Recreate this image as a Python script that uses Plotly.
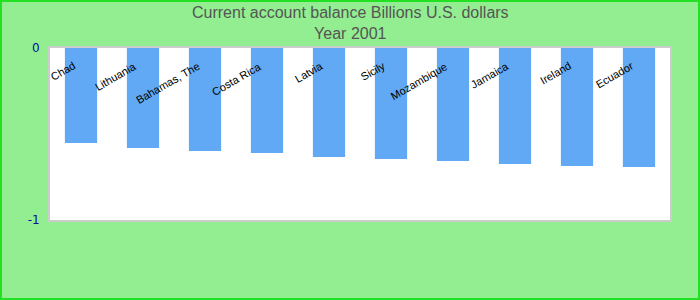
import plotly.graph_objects as go

countries = ["Chad", "Lithuania", "Bahamas, The", "Costa Rica", "Latvia",
             "Sicily", "Mozambique", "Jamaica", "Ireland", "Ecuador"]
balance = [-0.552, -0.581, -0.599, -0.610, -0.634,
           -0.645, -0.657, -0.674, -0.686, -0.692]
y_ticks = [0, -1]

W, H = 700, 300
ML, MR, MT, MB = 50, 30, 48, 80
PW, PH = W - ML - MR, H - MT - MB

fig = go.Figure()
fig.add_trace(go.Bar(x=countries, y=balance, marker_color="#61a9f4",
                     marker_line_width=0, width=0.52))

for c in countries:
    fig.add_annotation(x=c, y=0, xref="x", yref="y", text=c, showarrow=False,
                       textangle=-30, xanchor="right", yanchor="top",
                       xshift=-1, yshift=-9,
                       font=dict(family="Liberation Sans, Arial", size=11, color="black"))

fig.add_annotation(xref="paper", yref="paper", x=(W / 2 - ML) / PW, y=1 + (MT - 2) / PH,
                   xanchor="center", yanchor="top", showarrow=False,
                   text="Current account balance Billions U.S. dollars<br>Year 2001",
                   font=dict(family="Liberation Sans, Arial", size=16, color="#555555"))

fig.add_shape(type="rect", xref="paper", yref="paper",
              x0=-(ML - 1) / PW, x1=1 + (MR - 1) / PW,
              y0=-(MB - 1) / PH, y1=1 + (MT - 1) / PH,
              line=dict(color="#22e022", width=2), layer="below")

fig.update_layout(
    width=W, height=H,
    margin=dict(l=ML, r=MR, t=MT, b=MB),
    paper_bgcolor="#92ee90",
    plot_bgcolor="white",
    showlegend=False,
    xaxis=dict(showticklabels=False, ticks="", showgrid=False, zeroline=False,
               showline=True, linecolor="#cccccc", linewidth=2, mirror=True,
               range=[-0.5, len(countries) - 0.5]),
    yaxis=dict(range=[-1, 0], tickvals=y_ticks, ticktext=[str(v) for v in y_ticks],
               showgrid=False, zeroline=False, ticks="", ticklabelstandoff=6,
               showline=True, linecolor="#cccccc", linewidth=2, mirror=True,
               tickfont=dict(family="DejaVu Sans", size=12, color="#0a0aa0")),
)

fig.write_html("out.html")
